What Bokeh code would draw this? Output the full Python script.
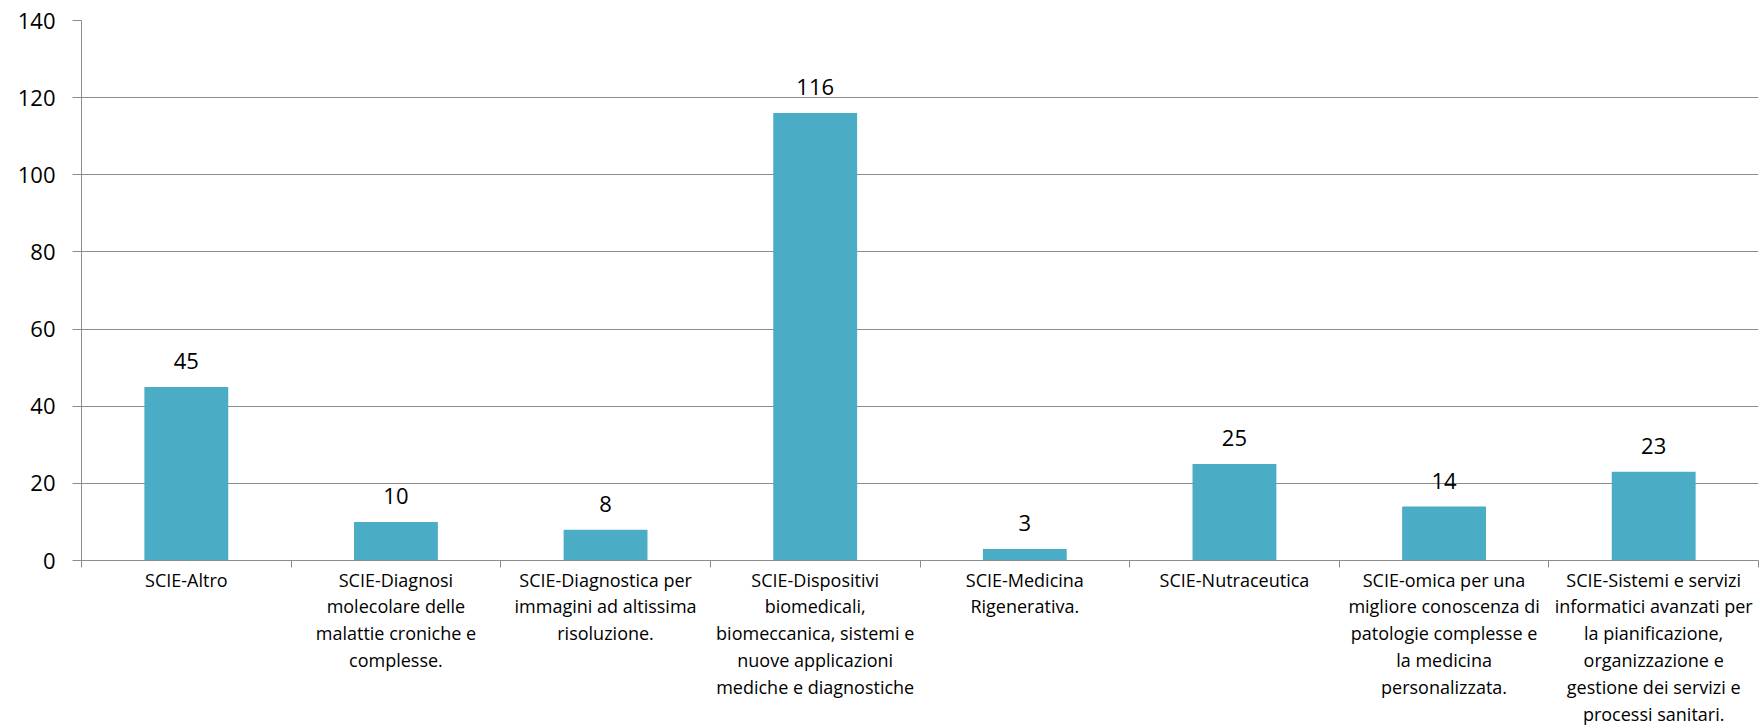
from bokeh.plotting import figure
from bokeh.models import FixedTicker, Range1d, ColumnDataSource
from bokeh.embed import file_html
from bokeh.resources import INLINE
from bokeh.core.properties import value
import numpy as np

categories = [
    "SCIE-Altro",
    "SCIE-Diagnosi\nmolecolare delle\nmalattie croniche e\ncomplesse.",
    "SCIE-Diagnostica per\nimmagini ad altissima\nrisoluzione.",
    "SCIE-Dispositivi\nbiomedicali,\nbiomeccanica, sistemi e\nnuove applicazioni\nmediche e diagnostiche",
    "SCIE-Medicina\nRigenerativa.",
    "SCIE-Nutraceutica",
    "SCIE-omica per una\nmigliore conoscenza di\npatologie complesse e\nla medicina\npersonalizzata.",
    "SCIE-Sistemi e servizi\ninformatici avanzati per\nla pianificazione,\norganizzazione e\ngestione dei servizi e\nprocessi sanitari.",
]
counts = [45, 10, 8, 116, 3, 25, 14, 23]
y_ticks = [0, 20, 40, 60, 80, 100, 120, 140]

n = len(categories)
centers = list(np.arange(n) + 0.5)
bounds = list(range(n + 1))

src = ColumnDataSource(dict(x=centers, top=counts, label=[str(c) for c in counts]))

FONT = "Open Sans"
GRAY = "#8c8c8c"

p = figure(width=1760, height=728, output_backend="svg", toolbar_location=None,
           x_range=Range1d(0, n), y_range=Range1d(0, y_ticks[-1]),
           min_border_left=81, min_border_right=2, min_border_top=20, min_border_bottom=168)
p.outline_line_color = None
p.background_fill_color = "white"

p.vbar(x="x", top="top", width=0.4, source=src, color="#4BACC6", line_color=None)
p.text(x="x", y="top", text="label", source=src, text_align="center",
       text_baseline="alphabetic", y_offset=-26, text_font=value(FONT),
       text_font_size="22px", text_color="#000000")

# x axis
xa = p.xaxis[0]
xa.ticker = FixedTicker(ticks=centers, minor_ticks=bounds)
xa.major_label_overrides = {c: lab for c, lab in zip(centers, categories)}
xa.major_tick_line_color = None
xa.major_tick_out = 0
xa.major_tick_in = 0
xa.minor_tick_line_color = GRAY
xa.minor_tick_out = 7
xa.minor_tick_in = 0
xa.axis_line_color = GRAY
xa.major_label_text_font = FONT
xa.major_label_text_font_size = "18px"
xa.major_label_text_color = "#000000"
xa.major_label_text_line_height = 1.12
xa.major_label_standoff = 0
p.xgrid.grid_line_color = None

# y axis
ya = p.yaxis[0]
ya.ticker = FixedTicker(ticks=y_ticks)
ya.axis_line_color = GRAY
ya.major_tick_line_color = GRAY
ya.major_tick_out = 9
ya.major_tick_in = 0
ya.minor_tick_line_color = None
ya.major_label_text_font = FONT
ya.major_label_text_font_size = "22px"
ya.major_label_text_color = "#000000"
ya.major_label_standoff = 17
p.ygrid.grid_line_color = GRAY
p.ygrid.grid_line_width = 1

open("out.html", "w").write(file_html(p, INLINE))
